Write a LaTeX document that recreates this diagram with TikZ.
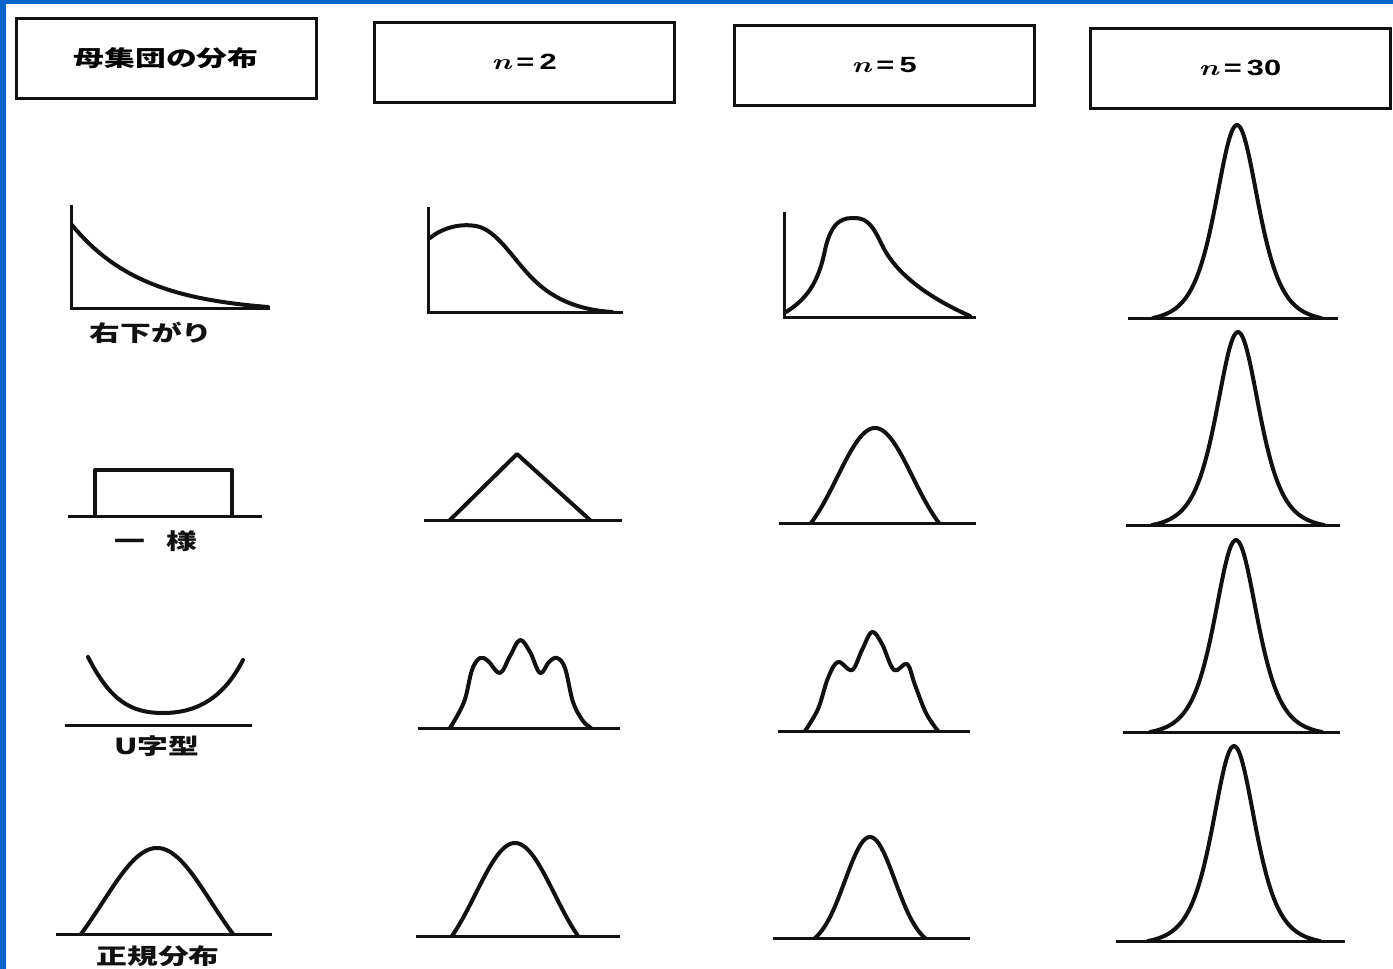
\documentclass[tikz,border=0pt]{standalone}
\usepackage{fontspec}
\usepackage{tikz}
\usetikzlibrary{positioning}
\newfontfamily\jpfont{Noto Sans CJK JP}
\newfontfamily\numfont{Liberation Sans}
\definecolor{edgeblue}{HTML}{0A64CC}
\definecolor{inkblack}{HTML}{111111}
\newcommand{\wide}[1]{\scalebox{1.4}[1]{#1}}
\newcommand{\nlabel}[1]{\wide{{\bfseries\itshape n}\,{\numfont\bfseries =\,#1}}}
% gaussian cut at +-#5: centre, base, half width, height, cut
\newcommand{\gbell}[5]{%
  \draw[curve] plot[domain=-#5:#5, samples=70, smooth]
    ({#1+#3*(\x)/#5},{#2-#4*(exp(-(\x)*(\x)/2)-exp(-#5*#5/2))/(1-exp(-#5*#5/2))});}
% t-like curve for n=30: centre, base, half width, height, scale
\newcommand{\tbell}[5]{%
  \draw[curve] plot[domain=-#3:#3, samples=90, smooth]
    ({#1+\x},{#2-#4*(pow(1+(\x)*(\x)/(4*#5*#5),-2.5)-pow(1+#3*#3/(4*#5*#5),-2.5))/(1-pow(1+#3*#3/(4*#5*#5),-2.5))});}

\begin{document}
\begin{tikzpicture}[
  x=0.5pt, y=-0.5pt,
  hdr/.style={draw=inkblack, line width=1.5pt, minimum width=150pt, minimum height=40pt,
              inner sep=0pt, font=\fontsize{11}{13}\selectfont},
  lbl/.style={font=\jpfont\bfseries\fontsize{11}{13}\selectfont, inner sep=0pt, text=inkblack},
  curve/.style={draw=inkblack, line width=2pt, line join=round, line cap=round},
  axisline/.style={draw=inkblack, line width=1.5pt},
]
\useasboundingbox (0,0) rectangle (1393,969);
\fill[white] (0,0) rectangle (1393,969);
\fill[edgeblue] (0,0) rectangle (6,969);
\fill[edgeblue] (0,0) rectangle (1393,4);

% column headers
\node[hdr] (hdrpop) at (166,58) {\jpfont\bfseries\wide{母集団の分布}};
\node[hdr] (hdrtwo) at (524,62) {\nlabel{2}};
\node[hdr] (hdrfive) at (884,65) {\nlabel{5}};
\node[hdr] (hdrthirty) at (1240,68) {\nlabel{30}};

% row 1: decreasing
\draw[axisline] (71,205) -- (71,308) -- (270,308);
\draw[curve] plot[domain=72:268, samples=50, smooth]
  ({\x},{307-82*(exp(-(\x-72)/72)-exp(-196/72))/(1-exp(-196/72))});
\node[lbl] (lbldecr) at (151,333) {\wide{右下がり}};
\draw[axisline] (428,207) -- (428,312) -- (623,312);
\draw[curve] (430,238) .. controls (442,228) and (462,222) .. (480,227)
  .. controls (500,234) and (515,262) .. (535,281)
  .. controls (555,300) and (580,310) .. (612,312);
\draw[axisline] (784,212) -- (784,317) -- (976,317);
\draw[curve] (786,312) .. controls (805,300) and (818,285) .. (825,250)
  .. controls (832,218) and (845,218) .. (855,218)
  .. controls (868,218) and (874,228) .. (882,245)
  .. controls (895,272) and (925,296) .. (970,316);
\draw[axisline] (1128,318) -- (1338,318);
\tbell{1237}{318}{84}{193}{22.5}

% row 2: uniform
\draw[axisline] (68,516) -- (262,516);
\draw[curve, line cap=butt] (95,516) -- (95,470) -- (232,470) -- (232,516);
\node[lbl] (lblunif) at (156,541) {\wide{一\hspace{0.7em}様}};
\draw[axisline] (424,520) -- (622,520);
\draw[curve] (450,520) -- (517,454) -- (590,520);
\draw[axisline] (779,523) -- (976,523);
\gbell{875}{523}{64}{95}{1.7}
\draw[axisline] (1126,525) -- (1340,525);
\tbell{1238}{525}{86}{193}{22.5}

% row 3: U shape
\draw[axisline] (65,725) -- (252,725);
\draw[curve] (88,657) .. controls (110,700) and (130,713) .. (163,713)
  .. controls (200,713) and (225,695) .. (243,660);
\node[lbl] (lblu) at (157,746) {\wide{U字型}};
\draw[axisline] (418,728) -- (620,728);
\draw[curve] plot[smooth, tension=0.6] coordinates {(450,728) (464,702) (472,670) (480,658)
  (488,661) (500,673) (510,656) (520,640) (530,652) (540,673) (549,662) (557,658)
  (565,668) (573,702) (583,721) (591,728)};
\draw[axisline] (778,731) -- (970,731);
\draw[curve] plot[smooth, tension=0.6] coordinates {(805,731) (818,709) (828,678) (838,662)
  (852,670) (862,650) (872,632) (882,644) (894,670) (907,664) (915,685) (926,713)
  (938,731)};
\draw[axisline] (1123,732) -- (1340,732);
\tbell{1236}{732}{86}{192}{22.5}

% row 4: normal
\draw[axisline] (56,934) -- (272,934);
\gbell{157}{934}{76}{86}{1.4}
\node[lbl] (lblnorm) at (158,956) {\wide{正規分布}};
\draw[axisline] (416,936) -- (620,936);
\gbell{515}{936}{63}{93}{1.6}
\draw[axisline] (773,938) -- (970,938);
\gbell{870}{938}{55}{101}{2.2}
\draw[axisline] (1116,941) -- (1345,941);
\tbell{1234}{941}{86}{195}{22.5}
\end{tikzpicture}
\end{document}
